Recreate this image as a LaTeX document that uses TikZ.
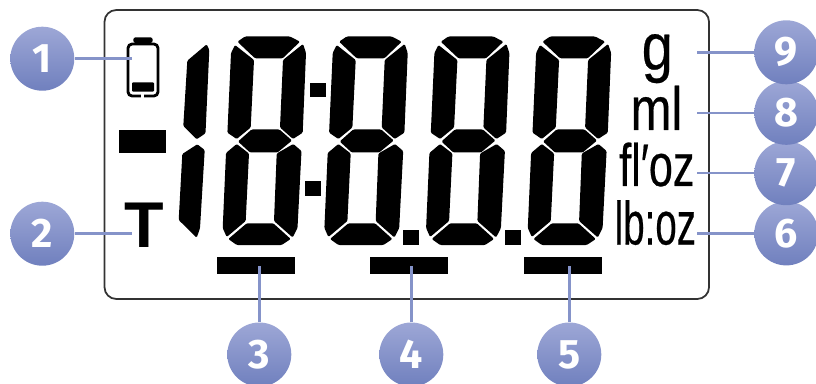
\documentclass[tikz,border=0pt]{standalone}
\usepackage{fontspec}
\setmainfont{Liberation Sans}
\newfontfamily\badgefont{Fira Sans}
\newfontfamily\unitfont[FakeBold=0.4]{Liberation Sans}
\usetikzlibrary{positioning}

\begin{document}
\begin{tikzpicture}[
    x=0.85pt, y=-0.85pt,
    seg/.style={fill=black, rounded corners=1pt},
    leader/.style={line width=2.2pt, color=leaderblue},
    badge/.style={circle, inner sep=0pt, minimum size=54.4pt, top color=badgetop, bottom color=badgebot, text=white, font=\badgefont\bfseries\fontsize{35}{35}\selectfont},
    unit/.style={inner sep=0pt, anchor=base west, transform shape},
    lcd digit/.pic={
        \fill[seg] (237.4,41.7) -- (245,36.5) -- (290,36.5) -- (300,41.7) -- (282.7,58.3) -- (255,58.3) -- cycle;
        \fill[seg] (235,45) -- (254,60) -- (250.7,127.5) -- (236.7,139) -- (227.4,132.7) -- (231,53) -- cycle;
        \fill[seg] (303,44) -- (306,53) -- (302.7,132.7) -- (293,139) -- (280,127.5) -- (283,60) -- cycle;
        \fill[seg] (251.5,129.5) -- (279.5,129.5) -- (292,140.5) -- (277.5,152.5) -- (250,152.5) -- (238,141.5) -- cycle;
        \fill[seg] (236.7,144) -- (249,153.5) -- (245.7,221) -- (226.7,237) -- (222.7,228) -- (226,153) -- cycle;
        \fill[seg] (293.3,144) -- (301.5,151) -- (297.5,228) -- (292.7,237.5) -- (274,221) -- (276.7,153.5) -- cycle;
        \fill[seg] (228.3,239) -- (246.7,223.3) -- (273.3,223.3) -- (290.7,239) -- (281.7,245) -- (236.7,245) -- cycle;
    },
]
\definecolor{leaderblue}{HTML}{8593C9}
\definecolor{badgetop}{HTML}{9DA7D6}
\definecolor{badgebot}{HTML}{7080BE}

\useasboundingbox (0,0) rectangle (816,384);

% Display frame
\draw[line width=1.5pt, color=black!80, rounded corners=10pt] (104.5,10) rectangle (709,299);

% Battery
\fill[rounded corners=2pt] (133.3,43) -- (133.3,37.3) -- (152.7,37.3) -- (152.7,43) -- cycle;
\draw[line width=2.4pt, rounded corners=3.5pt] (128,44) rectangle (158,96);
\fill[white] (140.7,94) rectangle (144,98);
\fill[rounded corners=1pt] (132,82.3) rectangle (154,91.7);

% Leading digit
\fill[seg] (206.7,44.3) -- (209.3,50) -- (205.5,133.3) -- (196.7,139.3) -- (183.3,126) -- (187.3,60.7) -- cycle;
\fill[seg] (197.3,144.3) -- (204.7,150) -- (200,228.3) -- (196.7,237.7) -- (178.7,220) -- (182.3,154) -- cycle;

% Digits
\pic at (0,0) {lcd digit};
\pic at (101.7,0) {lcd digit};
\pic at (203.4,0) {lcd digit};
\pic at (305.1,0) {lcd digit};

% Colon and decimal dots
\fill (310,82.7) rectangle (325.7,97.3);
\fill (304.7,181.3) rectangle (320.7,196);
\fill (403.3,230) rectangle (419.3,245.3);
\fill (505,230) rectangle (521,245.3);

% Bars
\fill (119,130) rectangle (166,152.7);
\fill (217,257) rectangle (295,274);
\fill (370,257) rectangle (448,274);
\fill (524,257) rectangle (602,274);

% Letters
\node[inner sep=0pt, anchor=base, font=\bfseries\fontsize{55}{55}\selectfont] (modeT) at (144.5,247.7) {T};
\node[unit, xscale=.85, font=\unitfont\fontsize{56}{56}\selectfont] (unitg) at (641.5,69.5) {g};
\node[unit, xscale=.8, font=\unitfont\fontsize{52}{52}\selectfont] (unitml) at (630.5,130) {ml};
\node[unit, xscale=.72, font=\unitfont\fontsize{51}{51}\selectfont] (unitfloz) at (619,186) {fl′oz};
\node[unit, xscale=.63, font=\unitfont\fontsize{52}{52}\selectfont] (unitlboz) at (614.5,244.5) {lb:oz};

% Free ends of the leaders
\coordinate (end1) at (132,58.7);
\coordinate (end2) at (132,233.7);
\coordinate (end3) at (259.3,266);
\coordinate (end4) at (411.3,266);
\coordinate (end5) at (569.3,266);
\coordinate (end6) at (696.7,233.4);
\coordinate (end7) at (696.7,173.2);
\coordinate (end8) at (696.7,112.8);
\coordinate (end9) at (696.7,52.3);

% Badges
\node[badge] (n1) at (42.3,58.7) {1};
\node[badge] (n2) at (42.3,233.7) {2};
\node[badge] (n3) at (259.3,354.5) {3};
\node[badge] (n4) at (411.3,354.5) {4};
\node[badge] (n5) at (569.3,354.5) {5};
\node[badge] (n6) at (786.3,233.4) {6};
\node[badge] (n7) at (786.3,173.2) {7};
\node[badge] (n8) at (786.3,112.8) {8};
\node[badge] (n9) at (786.3,52.3) {9};

% Leaders
\draw[leader] (n1) -- (end1);
\draw[leader] (n2) -- (end2);
\draw[leader] (n3) -- (end3);
\draw[leader] (n4) -- (end4);
\draw[leader] (n5) -- (end5);
\draw[leader] (n6) -- (end6);
\draw[leader] (n7) -- (end7);
\draw[leader] (n8) -- (end8);
\draw[leader] (n9) -- (end9);

\end{tikzpicture}
\end{document}
